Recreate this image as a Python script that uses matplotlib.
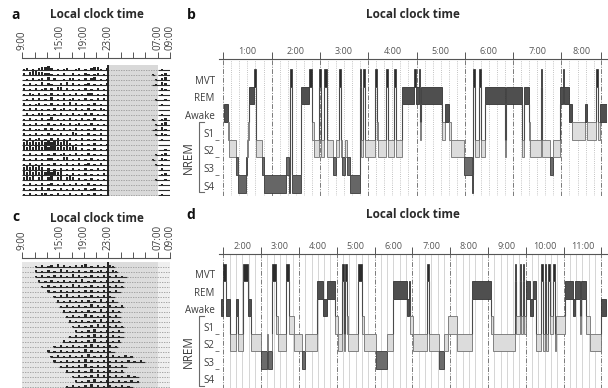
import matplotlib
matplotlib.use("Agg")
import matplotlib.pyplot as plt
from matplotlib.patches import Rectangle
import matplotlib.transforms as mtransforms
import numpy as np

plt.rcParams['font.family'] = ['Open Sans', 'DejaVu Sans']

W, H = 608, 388

# ---------------- data ----------------
# actogram axis: hours after 09:00
act_ticks = [0, 2, 4, 6, 8, 10, 12, 14, 16, 18, 20, 22, 24]
act_labels = ['9:00', '', '', '15:00', '', '19:00', '', '23:00', '', '', '', '07:00', '09:00']

# panel a: per-row activity in 30-min bins: (09-23h, 23-07h, 07-09h)
# '.' no activity, '-' awake baseline, '1'..'4' activity height
a_day = [
    "12-1-23342-1-12--12-1-2331-2",
    "2-34433221-1-2--2-1-21-12-1-",
    "-1-2-12-3-2--1-22-1-2-23-1-1",
    "1-2-1-3-21--2-3-2-1-12-1-1-2",
    "2-1-2-12-2-33-2-1-1-2-1-2-1-",
    "1-21-2-1-2-1-2-1-2-1-22-1-1-",
    "-1-2-2-1-3-1-2-12-1-2-1-2-2-",
    "2-1-12-1-2-1-2-3-2-1-1-2-1--",
    "1-2-2-1-1-2-12-1-2-1-2-1-21-",
    "-2-1-22-1-1-2-1-2-1-2-2-1-1-",
    "1-2-1-2-13-1-1-2-1-2-1-2-1--",
    "2-1-2-1-2-1-21-2-12-1-2-1-1-",
    "1-2-11-2-2-1-2-1-2-1-1-2-1--",
    "2-1-2-1-2-1-2-1-32-1-2-1-2--",
    "1-2-12-1-2-2-1-2-1-2-1-1-2--",
    "3434334343443442-1-2-1-2-1-1",
    "434344343443434343-2-1-2-1-1",
    "1-2-1-2-1-2-12-1-2-1-2-1-1--",
    "2-1-2-1-22-1-33-1-2-1-2-1-1-",
    "1-2-1-2-1-2-1-2-1-2-12-1-2--",
    "3434343-2-1-2-1-2-1-2-1-2-1-",
    "4343434343434-1-2-1-2-1-1-2-",
    "3434-34-34-34-343-2-1-2-1-1-",
    "1-2-1-2-12-1-2-1-2-1-2-1-1--",
    "2-1-2-3-2-1-2-1-2-1-2-12-1--",
    "1-2-1-22-1-2-1-2-1-2-1-2-1--",
]
a_night = [
    "................", "..............1.", "...............1", "..............-1",
    "................", "................", "...............1", "................",
    "................", "................", "..............1.", "...............1",
    "..............-1", "...............1", "................", "................",
    "................", "...............1", "..............1.", "...............1",
    "................", "................", "...............1", "................",
    "................", "................",
]
a_morning = [
    "-1--", "-12-", "-23-", "-32-", "-21-", "-1--", "--1-", "-1--", "----", "-1--",
    "-12-", "-23-", "-31-", "-21-", "-1--", "----", "--1-", "-12-", "-21-", "-1--",
    "-2--", "-12-", "--1-", "-1--", "----", "-1--",
]

# panel c: (first active 30-min bin, activity string)
c_rows = [
    (4, "1-2-12-3-2-1-2-23-1-2-1-21"),
    (4, "2-1-2-1-3-2-1-2-1-2-12-1-21"),
    (4, "1-2-1-2-2-1-3-2-1-2-1-2-1-2-1-"),
    (5, "2-1-2-1-2-1-2-3-1-2-1-2-1-2-"),
    (6, "1-2-1-2-1-3-2-1-2-1-2-1-2-1"),
    (8, "2-1-2-1-2-1-2-2-1-2-1-2-"),
    (10, "1-2-3-1-2-1-2-1-2-1-"),
    (11, "2-1-2-1-2-2-1-3-1-2-"),
    (12, "1-2-1-2-1-3-2-1-2-1-2"),
    (13, "2-1-2-1-2-1-3-1-2-1"),
    (14, "1-2-1-3-2-1-2-1-2-"),
    (15, "2-1-2-1-2-3-1-2-1"),
    (16, "1-2-1-2-3-2-1-2-1"),
    (17, "2-1-2-3-1-2-1-2-"),
    (15, "1-2-1-2-3-2-1-2-1-"),
    (13, "2-1-2-1-2-3-1-2-1-2"),
    (10, "1-2-1-2-1-2-3-2-1-2-1"),
    (8, "2-1-2-1-2-1-3-2-1-2-1-"),
    (9, "1-2-1-2-1-2-3-1-2-1-2-1-2-1"),
    (10, "2-1-2-1-2-3-2-1-2-1-2-1-2-1-2-"),
    (12, "1-2-1-2-3-1-2-1-2-1-2-"),
    (14, "2-1-2-1-3-2-1-2-1-2"),
    (16, "1-2-1-2-3-2-1-2-1-2-1-"),
    (17, "2-1-2-3-1-2-1-2-1-2-1"),
    (14, "1-2-1-2-3-2-1-2-1-2-1-"),
    (13, "2-1-2-1-2-3-1-2-1"),
]

stage_names = ['MVT', 'REM', 'Awake', 'S1', 'S2', 'S3', 'S4']
stage_codes = ['M', 'R', 'W', '1', '2', '3', '4']

# panel b hypnogram (clock hours)
b_hours = [1, 2, 3, 4, 5, 6, 7, 8, 8.83]
b_labels = ['1:00', '2:00', '3:00', '4:00', '5:00', '6:00', '7:00', '8:00']
b_starts = [1.02, 1.10, 1.12, 1.26, 1.31, 1.46, 1.49, 1.52, 1.54, 1.64, 1.67, 1.80, 1.85, 2.30, 2.35,
            2.38, 2.43, 2.60, 2.78, 2.83, 2.88, 2.98, 3.03, 3.09, 3.14, 3.28, 3.33, 3.40, 3.44, 3.45,
            3.52, 3.56, 3.63, 3.83, 3.85, 3.89, 3.94, 4.14, 4.19, 4.21, 4.37, 4.41, 4.53, 4.57, 4.70,
            4.95, 4.99, 5.06, 5.08, 5.10, 5.53, 5.58, 5.67, 5.72, 5.98, 6.14, 6.18, 6.22, 6.30, 6.34,
            6.41, 6.83, 6.86, 7.19, 7.22, 7.32, 7.36, 7.57, 7.60, 7.77, 7.82, 7.98, 8.03, 8.05, 8.15,
            8.22, 8.48, 8.52, 8.72, 8.76, 8.79]
b_stages = ['W', '1', '2', '3', '4', '3', '2', '1', 'R', 'M', '2', '3', '4', '3', '4',
            'M', '4', 'R', 'M', '1', '2', 'M', '2', 'M', '2', '3', '2', 'M', '2', '3',
            '2', '3', '4', 'M', '2', 'M', '2', 'M', '1', '2', 'M', '2', 'M', '2', 'R',
            'M', 'R', 'M', '1', 'R', '1', 'W', '1', '2', '3', '4', 'M', '2', 'M', '2',
            'R', '2', 'R', '2', 'R', '1', '2', 'M', '2', '3', '2', 'R', 'M', 'R', 'W',
            '1', 'W', '1', 'M', '1', 'W']
b_end = 8.95

# panel d hypnogram
d_hours = [2, 3, 4, 5, 6, 7, 8, 9, 10, 11, 12]
d_labels = ['2:00', '3:00', '4:00', '5:00', '6:00', '7:00', '8:00', '9:00', '10:00', '11:00']
d_starts = [1.93, 2.00, 2.07, 2.19, 2.33, 2.38, 2.53, 2.64, 2.73, 3.00, 3.16, 3.18, 3.28, 3.30, 3.39,
            3.44, 3.66, 3.74, 3.88, 4.07, 4.16, 4.49, 4.64, 4.73, 4.95, 5.04, 5.15, 5.19, 5.23, 5.27,
            5.30, 5.57, 5.66, 5.73, 6.05, 6.32, 6.49, 6.87, 6.90, 6.95, 7.02, 7.40, 7.44, 7.71, 7.84,
            7.95, 8.17, 8.59, 9.09, 9.14, 9.71, 9.75, 9.84, 9.88, 9.93, 9.96, 10.00, 10.12, 10.18, 10.28,
            10.41, 10.45, 10.50, 10.54, 10.59, 10.63, 10.72, 10.78, 10.81, 11.03, 11.25, 11.30, 11.43,
            11.46, 11.60, 11.69, 12.00]
d_stages = ['W', 'M', 'W', '2', 'W', '2', 'M', 'W', '2', '3', '2', '3', '2', 'M', '1',
            '2', 'M', '1', '2', '3', '2', 'R', 'W', 'R', '1', '2', 'M', '2', 'M', '1',
            '2', 'M', '1', '2', '3', '2', 'R', 'W', 'R', '1', '2', 'M', '2', '3', '2',
            '1', '2', 'R', '1', '2', 'M', '1', 'M', '1', 'M', '1', 'R', 'W', 'R', '2',
            'M', '2', 'M', '2', 'M', '1', 'M', '2', '1', 'R', 'W', 'R', '1',
            'R', '1', '2', 'W']
d_end = 12.13

# ---------------- styling ----------------
TXT = '#3c3c3c'
LEVEL = {c: 6 - i for i, c in enumerate(stage_codes)}
FILL = {'M': '#2c2c2c', 'R': '#4f4f4f', 'W': '#4f4f4f', '1': '#dedede', '2': '#dcdcdc',
        '3': '#6c6c6c', '4': '#666666'}
EDGE = {'M': '#2c2c2c', 'R': '#333333', 'W': '#333333', '1': '#707070', '2': '#707070',
        '3': '#3a3a3a', '4': '#3a3a3a'}

fig = plt.figure(figsize=(W / 100, H / 100), dpi=100)


def px_axes(left, top, right, bottom):
    return fig.add_axes([left / W, 1 - bottom / H, (right - left) / W, (bottom - top) / H])


def ftext(x, y, s, **kw):
    fig.text(x / W, 1 - y / H, s, **kw)


def actogram(ax, rows, shades, gap_rows):
    n = len(rows)
    ax.set_xlim(0, 24)
    ax.set_ylim(0, n + gap_rows)
    for x0, x1, col in shades:
        ax.fill_between([x0, x1], 0, n, color=col, lw=0, zorder=0)
    bx, bh, bb = [], [], []
    for r, s in enumerate(rows):
        y0 = n - 1 - r + 0.1
        kinds = ['d' if ch == '.' else 'a' for ch in s]
        i = 0
        while i < len(kinds):
            j = i
            while j < len(kinds) and kinds[j] == kinds[i]:
                j += 1
            if kinds[i] == 'a':
                ax.hlines(y0, i * 0.5, j * 0.5, color='#2e2e2e', lw=0.8, zorder=2)
            else:
                ax.hlines(y0, i * 0.5, j * 0.5, color='#9a9a9a', lw=0.6,
                          linestyles=(0, (1.6, 1.4)), zorder=2)
            i = j
        for k, ch in enumerate(s):
            if ch.isdigit() and ch != '0':
                bx.append(k * 0.5 + 0.25)
                bh.append(int(ch) * 0.2)
                bb.append(y0)
    ax.bar(bx, bh, bottom=bb, width=0.38, color='#262626', lw=0, zorder=3)
    ax.vlines(14, 0, n, color='#222222', lw=1.4, zorder=4)
    for sp in ['left', 'right', 'bottom']:
        ax.spines[sp].set_visible(False)
    ax.spines['top'].set_color('#555555')
    ax.spines['top'].set_linewidth(0.8)
    ax.xaxis.tick_top()
    ax.set_xticks(act_ticks)
    ax.set_xticklabels(act_labels, rotation=90)
    ax.tick_params(axis='x', direction='out', length=4.5, width=0.7, color='#555555',
                   labelsize=7, labelcolor=TXT, pad=1)
    ax.set_yticks([])


def hypnogram(ax, starts, stages, end, hours, labels, xlim, minor_style):
    ax.set_xlim(*xlim)
    ax.set_ylim(-0.68, 7.07)
    # grid
    for h in np.arange(np.floor(xlim[0]), xlim[1], 1 / 6):
        if abs(h - round(h)) < 1e-6:
            continue
        if h <= xlim[0] or h >= hours[-1]:
            continue
        if minor_style == 'dot':
            ax.axvline(h, color='#b0b0b0', lw=0.6, ls=(0, (1, 1.6)), zorder=0)
        else:
            ax.axvline(h, color='#cfcfcf', lw=0.6, zorder=0)
    for h in hours:
        ax.axvline(h, color='#7a7a7a', lw=0.7, ls=(0, (5, 1.5, 1, 1.5)), zorder=0.5)
    ends = list(starts[1:]) + [end]
    for i, (s, e, st) in enumerate(zip(starts, ends, stages)):
        lv = LEVEL[st]
        ax.add_patch(Rectangle((s, lv - 0.5), e - s, 1, facecolor=FILL[st],
                               edgecolor=EDGE[st], lw=0.5 if st == 'M' else 0.6, zorder=2))
        if i > 0:
            plv = LEVEL[stages[i - 1]]
            lo, hi = min(lv, plv), max(lv, plv)
            if hi - lo > 1:
                ax.vlines(s, lo + 0.5, hi - 0.5, color='#4a4a4a', lw=0.8, zorder=3)
    for sp in ['left', 'right', 'bottom']:
        ax.spines[sp].set_visible(False)
    ax.spines['top'].set_color('#555555')
    ax.spines['top'].set_linewidth(0.8)
    ax.xaxis.tick_top()
    ax.set_xticks(hours)
    ax.set_xticklabels([''] * len(hours))
    mids = [(a + b) / 2 for a, b in zip(hours[:-1], hours[1:])]
    ax.set_xticks(mids, minor=True)
    ax.set_xticklabels(labels, minor=True)
    ax.tick_params(axis='x', which='major', direction='out', length=5, width=0.7,
                   color='#555555')
    ax.tick_params(axis='x', which='minor', length=0, labelsize=6.5, labelcolor='#555555',
                   pad=2.5)
    ax.set_yticks([LEVEL[c] - 0.1 for c in stage_codes])
    ax.set_yticklabels(stage_names)
    ax.tick_params(axis='y', which='major', length=0, labelsize=7, labelcolor=TXT, pad=3)
    ax.set_yticks([0.5, 1.5, 2.5], minor=True)
    ax.tick_params(axis='y', which='minor', length=3, width=0.6, color='#666666',
                   direction='out')
    trans = mtransforms.blended_transform_factory(ax.transAxes, ax.transData)
    xb = -20 / 388
    xt = -15 / 388
    ax.plot([xt, xb, xb, xt], [3.5, 3.5, -0.45, -0.45], transform=trans, clip_on=False,
            color='#6a6a6a', lw=0.8)
    ax.text(-31 / 388, 1.48, 'NREM', transform=trans, rotation=90, ha='center',
            va='center', fontsize=8.5, color=TXT)


# panel a
axa = px_axes(22.3, 58, 170, 196)
rows_a = [(d + '.' * 28)[:28] + (n + '.' * 16)[:16] + (m + '.' * 4)[:4]
          for d, n, m in zip(a_day, a_night, a_morning)]
actogram(axa, rows_a, [(14, 22, '#d9d9d9')], 7 / 5.04)

# panel c
axc = px_axes(22.3, 258, 170, 393)
rows_c = [('.' * st + s + '.' * 48)[:48] for st, s in c_rows]
actogram(axc, rows_c, [(0, 14, '#e6e6e6'), (14, 22, '#dcdcdc'), (22, 24, '#efefef')],
         4 / 5.04)

# panel b
axb = px_axes(219, 59, 607, 196)
hypnogram(axb, b_starts, b_stages, b_end, b_hours, b_labels, (0.911, 8.944), 'dot')

# panel d
axd = px_axes(219, 254, 607, 389.6)
hypnogram(axd, d_starts, d_stages, d_end, d_hours, d_labels, (1.886, 12.15), 'solid')

# titles and panel letters
for x, y in [(97, 15), (413, 15), (97, 218), (413, 215)]:
    ftext(x, y, 'Local clock time', ha='center', va='center', fontsize=8.5,
          fontweight='bold', color='#2a2a2a')
for x, y, s in [(16, 15, 'a'), (191, 15, 'b'), (16, 217, 'c'), (191, 215, 'd')]:
    ftext(x, y, s, ha='center', va='center', fontsize=10, fontweight='bold', color='#111111')

fig.savefig('out.png', dpi=100)
